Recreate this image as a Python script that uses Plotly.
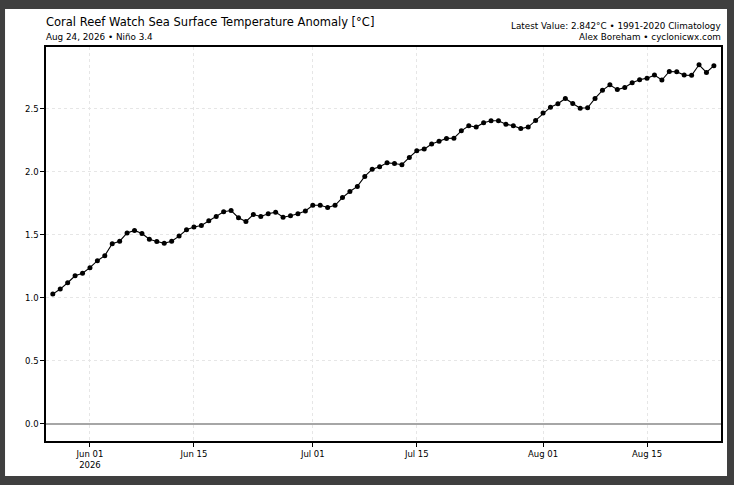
import pandas as pd
import plotly.graph_objects as go

# daily Nino 3.4 SST anomaly, May 27 - Aug 24 2026
start_date = "2026-05-27"
anomaly = [
    1.03, 1.07, 1.12, 1.175, 1.195, 1.24, 1.295, 1.335, 1.43, 1.45, 1.515, 1.535, 1.51,
    1.466, 1.447, 1.434, 1.45, 1.49, 1.54, 1.563, 1.574, 1.611, 1.646, 1.683, 1.693, 1.636,
    1.606, 1.661, 1.646, 1.667, 1.68, 1.64, 1.651, 1.667, 1.69, 1.735, 1.735, 1.717, 1.734,
    1.796, 1.844, 1.884, 1.963, 2.021, 2.04, 2.071, 2.066, 2.056, 2.114, 2.167, 2.18,
    2.22, 2.243, 2.265, 2.267, 2.325, 2.365, 2.355, 2.389, 2.405, 2.405, 2.378, 2.365, 2.343,
    2.355, 2.407, 2.466, 2.513, 2.54, 2.582, 2.542, 2.505, 2.508, 2.582, 2.646, 2.69, 2.652,
    2.669, 2.706, 2.73, 2.743, 2.767, 2.728, 2.796, 2.794, 2.767, 2.765, 2.849, 2.788, 2.842,
]
dates = pd.date_range(start_date, periods=len(anomaly), freq="D")

tick_dates = ["2026-06-01", "2026-06-15", "2026-07-01", "2026-07-15", "2026-08-01", "2026-08-15"]
tick_labels = ["Jun 01<br>2026", "Jun 15", "Jul 01", "Jul 15", "Aug 01", "Aug 15"]
y_ticks = [0.0, 0.5, 1.0, 1.5, 2.0, 2.5]

title = "Coral Reef Watch Sea Surface Temperature Anomaly [°C]"
subtitle = "Aug 24, 2026 • Niño 3.4"
info_top = "Latest Value: 2.842°C • 1991-2020 Climatology"
info_bottom = "Alex Boreham • cyclonicwx.com"

font = "DejaVu Sans"

fig = go.Figure()
fig.add_trace(go.Scatter(
    x=dates, y=anomaly, mode="lines+markers",
    line=dict(color="black", width=1.1),
    marker=dict(color="black", size=5),
    showlegend=False,
))

# white card on dark viewer background
fig.add_shape(type="rect", xref="paper", yref="paper",
              x0=-0.0607, x1=1.0089, y0=-0.0888, y1=1.0964,
              fillcolor="white", line=dict(width=0), layer="below")

fig.add_annotation(text=title, xref="paper", yref="paper", x=0, y=1.0,
                   xshift=-2, yshift=25, xanchor="left", yanchor="middle", showarrow=False,
                   font=dict(family=font, size=11.5, color="black"))
fig.add_annotation(text=subtitle, xref="paper", yref="paper", x=0, y=1.0,
                   xshift=-2, yshift=10, xanchor="left", yanchor="middle", showarrow=False,
                   font=dict(family=font, size=8.8, color="black"))
fig.add_annotation(text=info_top, xref="paper", yref="paper", x=1, y=1.0,
                   xshift=2, yshift=21, xanchor="right", yanchor="middle", showarrow=False,
                   font=dict(family=font, size=8.8, color="black"))
fig.add_annotation(text=info_bottom, xref="paper", yref="paper", x=1, y=1.0,
                   xshift=2, yshift=10, xanchor="right", yanchor="middle", showarrow=False,
                   font=dict(family=font, size=8.8, color="black"))

fig.update_xaxes(
    range=["2026-05-26 02:00", "2026-08-24 23:00"],
    tickvals=tick_dates, ticktext=tick_labels,
    showgrid=True, gridcolor="#e6e6e6", griddash="dot", gridwidth=0.7,
    showline=True, linecolor="black", linewidth=1.5, mirror=True,
    ticks="outside", ticklen=4, tickcolor="black",
    tickfont=dict(family=font, size=8.5, color="black"),
    zeroline=False,
)
fig.update_yaxes(
    range=[-0.135, 2.99],
    tickvals=y_ticks, tickformat=".1f",
    showgrid=True, gridcolor="#e6e6e6", griddash="dot", gridwidth=0.7,
    showline=True, linecolor="black", linewidth=1.5, mirror=True,
    ticks="outside", ticklen=4, tickcolor="black",
    tickfont=dict(family=font, size=8.5, color="black"),
    zeroline=True, zerolinecolor="#a6a6a6", zerolinewidth=1.5,
)
fig.update_layout(
    width=734, height=485,
    margin=dict(l=46, r=13, t=47, b=44),
    paper_bgcolor="#3f3f3f", plot_bgcolor="white",
)

fig.write_html(
    "out.html",
    config={"displayModeBar": False},
    post_script="document.body.style.margin='0';document.body.style.background='#3f3f3f';",
)
